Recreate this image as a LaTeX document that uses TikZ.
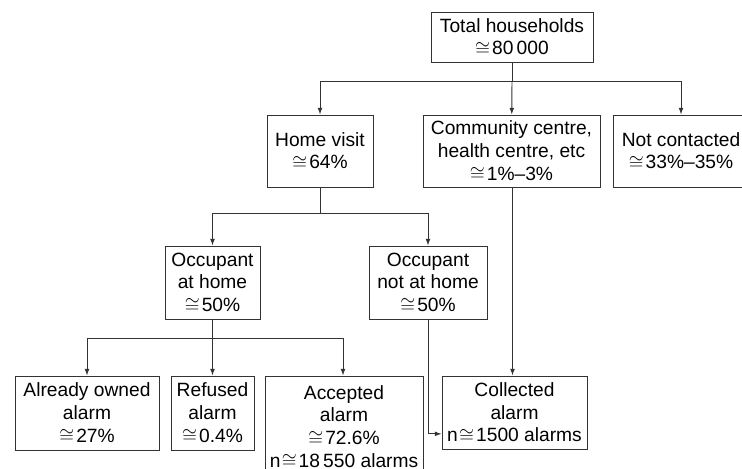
\documentclass[tikz,border=0pt]{standalone}
\usepackage{fontspec}
\setmainfont{Liberation Sans}
\usetikzlibrary{arrows.meta}
\newcommand{\apx}{$\cong$\kern1.5pt}
\tikzset{
  box/.style={draw=black!80, line width=0.7pt, align=center, inner sep=2pt,
    font=\fontsize{14.4}{17}\selectfont},
  arr/.style={draw=black!80, line width=0.7pt, -{Latex[length=5pt,width=3.6pt]}},
  ln/.style={draw=black!80, line width=0.7pt}
}
\begin{document}
\begin{tikzpicture}[x=0.75pt,y=0.75pt,yscale=-1,xscale=1]
\useasboundingbox (0,0) rectangle (742,468);
\clip (0,0) rectangle (742,468);
% boxes
\node (total) at (512,37) [box, minimum width=121.5pt, minimum height=37.5pt] {Total households\\\apx80\,000};
\node (home) at (320,151) [box, minimum width=79.5pt, minimum height=54pt] {Home visit\\\apx64\%};
\node (comm) at (511.5,151) [box, minimum width=132.75pt, minimum height=54pt] {Community centre,\\health centre, etc\\\apx1\%--3\%};
\node (notc) at (681,151) [box, minimum width=102pt, minimum height=54pt] {Not contacted\\\apx33\%--35\%};
\node (occhome) at (212.5,282.5) [box, minimum width=71.25pt, minimum height=54.75pt] {Occupant\\at home\\\apx50\%};
\node (occnot) at (428,282.5) [box, minimum width=88.5pt, minimum height=54.75pt] {Occupant\\not at home\\\apx50\%};
\node (owned) at (87,413) [box, minimum width=108pt, minimum height=55.5pt] {Already owned\\alarm\\\apx27\%};
\node (refused) at (212.5,413) [box, minimum width=62.25pt, minimum height=55.5pt] {Refused\\alarm\\\apx0.4\%};
\node (accepted) at (344,426.5) [box, minimum width=118.5pt, minimum height=75.75pt] {Accepted\\alarm\\\apx72.6\%\\n\kern1pt\apx18\,550 alarms};
\node (collected) at (514.5,412.5) [box, minimum width=108.75pt, minimum height=54.75pt] {Collected\\alarm\\n\kern1pt\apx1500 alarms};
% junctions
\coordinate (j1) at (512,81);
\coordinate (j2) at (320,213);
\coordinate (j3) at (212.5,338);
% connectors
\draw[ln] (total) -- (j1);
\draw[arr] (j1) -| (home);
\draw[arr] (j1) -- (comm);
\draw[arr] (j1) -| (notc);
\draw[ln] (home) -- (j2);
\draw[arr] (j2) -| (occhome);
\draw[arr] (j2) -| (occnot);
\draw[ln] (occhome) -- (j3);
\draw[arr] (j3) -| (owned);
\draw[arr] (j3) -- (refused);
\draw[arr] (j3) -| ([xshift=-0.75pt]accepted.north);
\draw[arr] (occnot) |- ([yshift=16pt]collected.west);
\draw[arr] ([xshift=-1.5pt]collected.north |- comm.south) -- ([xshift=-1.5pt]collected.north);
\end{tikzpicture}
\end{document}
